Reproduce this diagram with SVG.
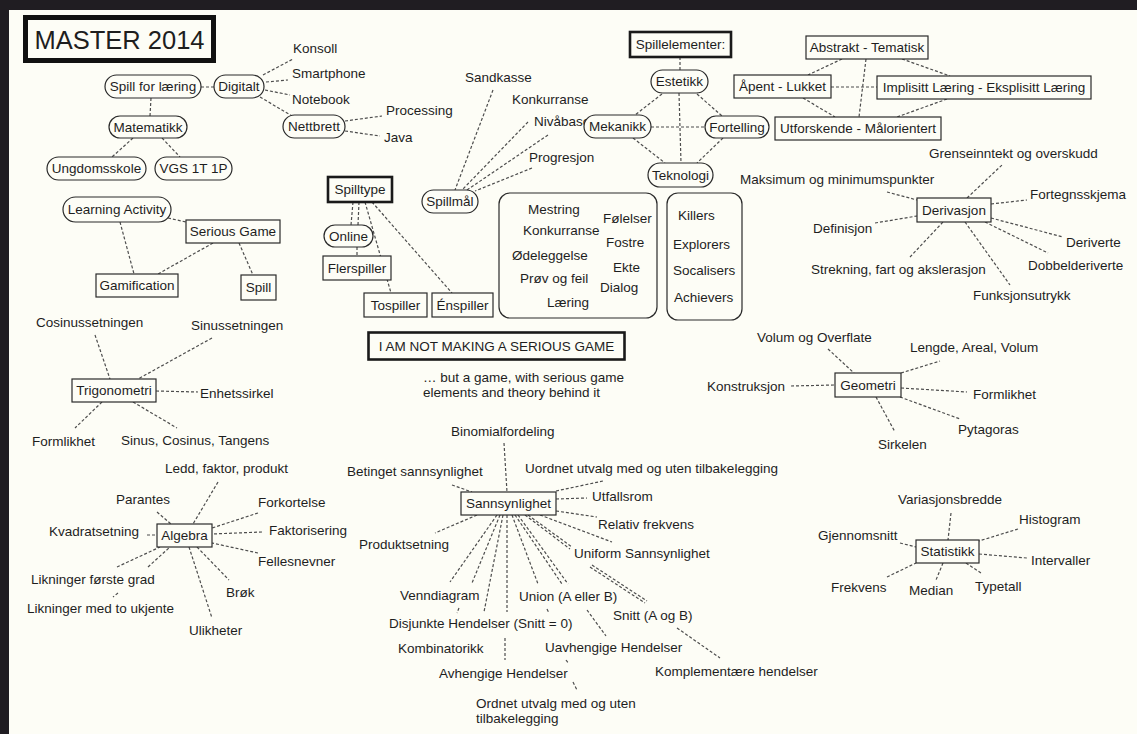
<svg xmlns="http://www.w3.org/2000/svg" width="1137" height="734" viewBox="0 0 1137 734">
<style>
text{font-family:"Liberation Sans",Arial,Helvetica,sans-serif;font-size:13.5px;fill:#1e1e1e}
.m{text-anchor:middle}
.c line{stroke:#4d4d4d;stroke-width:1.2;stroke-dasharray:3 2;fill:none}
.p{fill:#fdfdf6;stroke:#2a2a2a;stroke-width:1.2}
.k{fill:#fdfdf6;stroke:#1a1a1a;stroke-width:2.6}
</style>
<rect x="0" y="0" width="1137" height="734" fill="#201d22"/>
<rect x="9" y="10" width="1128" height="724" fill="#fdfdf6"/>

<g id="connectors" class="c">
<line x1="201" y1="87" x2="214" y2="87"/>
<line x1="151" y1="98" x2="150" y2="116"/>
<line x1="133" y1="138" x2="112" y2="157"/>
<line x1="162" y1="138" x2="180" y2="157"/>
<line x1="263" y1="75" x2="293" y2="59"/>
<line x1="266" y1="82" x2="288" y2="80"/>
<line x1="265" y1="90" x2="290" y2="95"/>
<line x1="260" y1="97" x2="292" y2="116"/>
<line x1="345" y1="121" x2="382" y2="116"/>
<line x1="345" y1="131" x2="380" y2="136"/>
<line x1="680" y1="57" x2="680" y2="70"/>
<line x1="662" y1="94" x2="635" y2="115"/>
<line x1="697" y1="94" x2="722" y2="116"/>
<line x1="679" y1="93" x2="681" y2="163"/>
<line x1="651" y1="127" x2="705" y2="127"/>
<line x1="633" y1="138" x2="665" y2="163"/>
<line x1="723" y1="138" x2="697" y2="163"/>
<line x1="842" y1="59" x2="808" y2="75"/>
<line x1="866" y1="59" x2="859" y2="117"/>
<line x1="902" y1="59" x2="950" y2="76"/>
<line x1="831" y1="87" x2="877" y2="87"/>
<line x1="803" y1="98" x2="835" y2="117"/>
<line x1="947" y1="99" x2="897" y2="117"/>
<line x1="493" y1="90" x2="455" y2="190"/>
<line x1="528" y1="122" x2="462" y2="190"/>
<line x1="548" y1="135" x2="467" y2="190"/>
<line x1="532" y1="168" x2="475" y2="191"/>
<line x1="353" y1="202" x2="351" y2="225"/>
<line x1="359" y1="202" x2="358" y2="225"/>
<line x1="357" y1="247" x2="357" y2="256"/>
<line x1="365" y1="202" x2="391" y2="293"/>
<line x1="372" y1="202" x2="452" y2="293"/>
<line x1="168" y1="218" x2="186" y2="222"/>
<line x1="120" y1="222" x2="134" y2="274"/>
<line x1="213" y1="243" x2="158" y2="274"/>
<line x1="239" y1="243" x2="253" y2="275"/>
<line x1="95" y1="335" x2="110" y2="379"/>
<line x1="212" y1="338" x2="138" y2="379"/>
<line x1="156" y1="391" x2="198" y2="392"/>
<line x1="102" y1="402" x2="75" y2="428"/>
<line x1="133" y1="402" x2="177" y2="428"/>
<line x1="218" y1="482" x2="193" y2="524"/>
<line x1="157" y1="512" x2="171" y2="524"/>
<line x1="258" y1="513" x2="212" y2="528"/>
<line x1="147" y1="535" x2="157" y2="535"/>
<line x1="262" y1="532" x2="212" y2="534"/>
<line x1="258" y1="553" x2="212" y2="543"/>
<line x1="117" y1="567" x2="160" y2="547"/>
<line x1="148" y1="567" x2="170" y2="547"/>
<line x1="118" y1="593" x2="113" y2="597"/>
<line x1="197" y1="547" x2="229" y2="580"/>
<line x1="189" y1="547" x2="212" y2="618"/>
<line x1="504" y1="443" x2="507" y2="492"/>
<line x1="452" y1="485" x2="472" y2="492"/>
<line x1="556" y1="491" x2="603" y2="481"/>
<line x1="556" y1="499" x2="587" y2="498"/>
<line x1="556" y1="511" x2="597" y2="517"/>
<line x1="477" y1="515" x2="435" y2="533"/>
<line x1="497" y1="515" x2="450" y2="582"/>
<line x1="500" y1="515" x2="472" y2="583"/>
<line x1="459" y1="608" x2="457" y2="613"/>
<line x1="503" y1="515" x2="484" y2="612"/>
<line x1="507" y1="515" x2="507" y2="612"/>
<line x1="505" y1="638" x2="505" y2="660"/>
<line x1="512" y1="515" x2="538" y2="584"/>
<line x1="547" y1="609" x2="549" y2="613"/>
<line x1="566" y1="660" x2="569" y2="664"/>
<line x1="573" y1="682" x2="577" y2="690"/>
<line x1="515" y1="515" x2="562" y2="584"/>
<line x1="518" y1="515" x2="568" y2="584"/>
<line x1="587" y1="610" x2="606" y2="636"/>
<line x1="525" y1="515" x2="570" y2="549"/>
<line x1="528" y1="515" x2="572" y2="547"/>
<line x1="590" y1="567" x2="645" y2="603"/>
<line x1="592" y1="565" x2="647" y2="601"/>
<line x1="677" y1="628" x2="720" y2="658"/>
<line x1="540" y1="515" x2="612" y2="542"/>
<line x1="967" y1="198" x2="1002" y2="165"/>
<line x1="887" y1="192" x2="917" y2="200"/>
<line x1="991" y1="204" x2="1027" y2="200"/>
<line x1="991" y1="218" x2="1063" y2="237"/>
<line x1="985" y1="222" x2="1048" y2="253"/>
<line x1="965" y1="222" x2="1010" y2="285"/>
<line x1="875" y1="223" x2="917" y2="216"/>
<line x1="910" y1="257" x2="943" y2="222"/>
<line x1="828" y1="349" x2="854" y2="373"/>
<line x1="791" y1="386" x2="835" y2="385"/>
<line x1="901" y1="373" x2="940" y2="361"/>
<line x1="901" y1="388" x2="967" y2="392"/>
<line x1="900" y1="397" x2="960" y2="419"/>
<line x1="876" y1="397" x2="895" y2="432"/>
<line x1="951" y1="513" x2="948" y2="540"/>
<line x1="1018" y1="529" x2="979" y2="541"/>
<line x1="900" y1="543" x2="916" y2="547"/>
<line x1="979" y1="554" x2="1027" y2="558"/>
<line x1="887" y1="577" x2="916" y2="563"/>
<line x1="943" y1="563" x2="936" y2="580"/>
<line x1="966" y1="563" x2="981" y2="573"/>
</g>

<g id="master"><rect x="25.5" y="17.5" width="188" height="43" fill="#fdfdf6" stroke="#111" stroke-width="5"/><text class="m" x="119.5" y="49" style="font-size:25.5px">MASTER 2014</text></g>

<g id="spill-for-laering"><rect class="p" x="105" y="75" width="96" height="23" rx="11.5"/><text class="m" x="153" y="91">Spill for læring</text></g>
<g id="digitalt"><rect class="p" x="214" y="75" width="50" height="23" rx="11.5"/><text class="m" x="239" y="91">Digitalt</text></g>
<g id="matematikk"><rect class="p" x="109" y="116" width="78" height="22" rx="11"/><text class="m" x="148" y="132">Matematikk</text></g>
<g id="ungdomsskole"><rect class="p" x="47" y="157" width="99" height="23" rx="11.5"/><text class="m" x="96.5" y="173">Ungdomsskole</text></g>
<g id="vgs"><rect class="p" x="155" y="157" width="77" height="23" rx="11.5"/><text class="m" x="193.5" y="173">VGS 1T 1P</text></g>
<g id="konsoll"><text x="293" y="53">Konsoll</text></g>
<g id="smartphone"><text x="292" y="78">Smartphone</text></g>
<g id="notebook"><text x="292" y="104">Notebook</text></g>
<g id="nettbrett"><rect class="p" x="283" y="115" width="62" height="23" rx="11.5"/><text class="m" x="314" y="131">Nettbrett</text></g>
<g id="processing"><text x="386" y="115">Processing</text></g>
<g id="java"><text x="384" y="142">Java</text></g>

<g id="sandkasse"><text x="465" y="82">Sandkasse</text></g>
<g id="konkurranse1"><text x="512" y="104">Konkurranse</text></g>
<g id="nivabasert"><text x="534" y="126">Nivåbasert</text></g>
<g id="progresjon"><text x="529" y="162">Progresjon</text></g>
<g id="spillmal"><rect class="p" x="422" y="190" width="56" height="23" rx="11.5"/><text class="m" x="450" y="206">Spillmål</text></g>

<g id="spillelementer"><rect class="k" x="630" y="32" width="101" height="25"/><text class="m" x="680.5" y="49">Spillelementer:</text></g>
<g id="estetikk"><rect class="p" x="651" y="70" width="57" height="23" rx="11.5"/><text class="m" x="679.5" y="86">Estetikk</text></g>
<g id="mekanikk"><rect class="p" x="584" y="115" width="67" height="23" rx="11.5"/><text class="m" x="617.5" y="131">Mekanikk</text></g>
<g id="fortelling"><rect class="p" x="705" y="116" width="64" height="22" rx="11"/><text class="m" x="737" y="132">Fortelling</text></g>
<g id="teknologi"><rect class="p" x="648" y="163" width="65" height="24" rx="12"/><text class="m" x="680.5" y="180">Teknologi</text></g>

<g id="abstrakt"><rect class="p" x="806" y="36" width="122" height="23"/><text class="m" x="867" y="52">Abstrakt - Tematisk</text></g>
<g id="apent"><rect class="p" x="734" y="75" width="97" height="23"/><text class="m" x="782.5" y="91">Åpent - Lukket</text></g>
<g id="implisitt"><rect class="p" x="877" y="76" width="214" height="23"/><text class="m" x="984" y="92">Implisitt Læring - Eksplisitt Læring</text></g>
<g id="utforskende"><rect class="p" x="775" y="117" width="166" height="23"/><text class="m" x="858" y="133">Utforskende - Målorientert</text></g>

<g id="spilltype"><rect class="k" x="328" y="177" width="64" height="25"/><text class="m" x="360" y="194">Spilltype</text></g>
<g id="online"><rect class="p" x="324" y="225" width="49" height="22" rx="11"/><text class="m" x="348.5" y="241">Online</text></g>
<g id="flerspiller"><rect class="p" x="323" y="256" width="68" height="24"/><text class="m" x="357" y="273">Flerspiller</text></g>
<g id="tospiller"><rect class="p" x="364" y="293" width="63" height="24"/><text class="m" x="395.5" y="310">Tospiller</text></g>
<g id="enspiller"><rect class="p" x="432" y="293" width="61" height="24"/><text class="m" x="462.5" y="310">Énspiller</text></g>

<g id="motivasjon"><rect class="p" x="499" y="193" width="158" height="125" rx="11"/>
<text x="528" y="214">Mestring</text><text x="523" y="235">Konkurranse</text><text x="512" y="260">Ødeleggelse</text><text x="520" y="283">Prøv og feil</text><text x="547" y="307">Læring</text>
<text x="603" y="223">Følelser</text><text x="606" y="247">Fostre</text><text x="613" y="272">Ekte</text><text x="600" y="292">Dialog</text></g>
<g id="spillertyper"><rect class="p" x="667" y="193" width="75" height="127" rx="11"/>
<text x="678" y="220">Killers</text><text x="673" y="249">Explorers</text><text x="673" y="275">Socalisers</text><text x="674" y="302">Achievers</text></g>

<g id="not-making"><rect class="k" x="368.5" y="332.5" width="256" height="27"/><text class="m" x="496.5" y="351">I AM NOT MAKING A SERIOUS GAME</text></g>
<g id="but-a-game"><text x="423" y="382">… but a game, with serious game</text><text x="423" y="397">elements and theory behind it</text></g>

<g id="learning-activity"><rect class="p" x="63" y="197" width="108" height="25" rx="12.5"/><text class="m" x="117" y="214">Learning Activity</text></g>
<g id="serious-game"><rect class="p" x="186" y="220" width="94" height="23"/><text class="m" x="233" y="236">Serious Game</text></g>
<g id="gamification"><rect class="p" x="96" y="274" width="82" height="23"/><text class="m" x="137" y="290">Gamification</text></g>
<g id="spill"><rect class="p" x="241" y="275" width="35" height="25"/><text class="m" x="258.5" y="292">Spill</text></g>

<g id="trigonometri"><rect class="p" x="72" y="379" width="84" height="23"/><text class="m" x="114" y="395">Trigonometri</text></g>
<g id="cosinussetningen"><text x="36" y="327">Cosinussetningen</text></g>
<g id="sinussetningen"><text x="191" y="330">Sinussetningen</text></g>
<g id="enhetssirkel"><text x="200" y="398">Enhetssirkel</text></g>
<g id="formlikhet1"><text x="32" y="446">Formlikhet</text></g>
<g id="sinus-cosinus-tangens"><text x="121" y="445">Sinus, Cosinus, Tangens</text></g>

<g id="algebra"><rect class="p" x="157" y="524" width="55" height="23"/><text class="m" x="184.5" y="540">Algebra</text></g>
<g id="ledd"><text x="165" y="473">Ledd, faktor, produkt</text></g>
<g id="parantes"><text x="116" y="504">Parantes</text></g>
<g id="forkortelse"><text x="258" y="507">Forkortelse</text></g>
<g id="kvadratsetning"><text x="49" y="536">Kvadratsetning</text></g>
<g id="faktorisering"><text x="269" y="535">Faktorisering</text></g>
<g id="fellesnevner"><text x="258" y="566">Fellesnevner</text></g>
<g id="likninger-forste"><text x="31" y="584">Likninger første grad</text></g>
<g id="likninger-to"><text x="27" y="613">Likninger med to ukjente</text></g>
<g id="brok"><text x="226" y="597">Brøk</text></g>
<g id="ulikheter"><text x="189" y="635">Ulikheter</text></g>

<g id="sannsynlighet"><rect class="p" x="461" y="492" width="95" height="23"/><text class="m" x="508.5" y="508">Sannsynlighet</text></g>
<g id="binomial"><text x="451" y="436">Binomialfordeling</text></g>
<g id="betinget"><text x="347" y="476">Betinget sannsynlighet</text></g>
<g id="uordnet"><text x="525" y="473">Uordnet utvalg med og uten tilbakelegging</text></g>
<g id="utfallsrom"><text x="592" y="501">Utfallsrom</text></g>
<g id="relativ"><text x="598" y="529">Relativ frekvens</text></g>
<g id="produktsetning"><text x="359" y="549">Produktsetning</text></g>
<g id="uniform"><text x="574" y="558">Uniform Sannsynlighet</text></g>
<g id="venndiagram"><text x="400" y="600">Venndiagram</text></g>
<g id="union"><text x="519" y="601">Union (A eller B)</text></g>
<g id="disjunkte"><text x="389" y="628">Disjunkte Hendelser (Snitt = 0)</text></g>
<g id="snitt"><text x="613" y="620">Snitt (A og B)</text></g>
<g id="kombinatorikk"><text x="398" y="653">Kombinatorikk</text></g>
<g id="uavhengige"><text x="545" y="652">Uavhengige Hendelser</text></g>
<g id="avhengige"><text x="439" y="678">Avhengige Hendelser</text></g>
<g id="komplementaere"><text x="655" y="676">Komplementære hendelser</text></g>
<g id="ordnet"><text x="476" y="708">Ordnet utvalg med og uten</text><text x="476" y="723">tilbakelegging</text></g>

<g id="derivasjon"><rect class="p" x="917" y="198" width="74" height="24"/><text class="m" x="954" y="215">Derivasjon</text></g>
<g id="grenseinntekt"><text x="929" y="158">Grenseinntekt og overskudd</text></g>
<g id="maksimum"><text x="740" y="184">Maksimum og minimumspunkter</text></g>
<g id="fortegnsskjema"><text x="1030" y="199">Fortegnsskjema</text></g>
<g id="definisjon"><text x="813" y="233">Definisjon</text></g>
<g id="deriverte"><text x="1066" y="247">Deriverte</text></g>
<g id="dobbelderiverte"><text x="1028" y="270">Dobbelderiverte</text></g>
<g id="strekning"><text x="811" y="274">Strekning, fart og akslerasjon</text></g>
<g id="funksjonsutrykk"><text x="973" y="300">Funksjonsutrykk</text></g>

<g id="geometri"><rect class="p" x="835" y="373" width="66" height="24"/><text class="m" x="868" y="390">Geometri</text></g>
<g id="volum"><text x="757" y="342">Volum og Overflate</text></g>
<g id="konstruksjon"><text x="707" y="391">Konstruksjon</text></g>
<g id="lengde"><text x="910" y="352">Lengde, Areal, Volum</text></g>
<g id="formlikhet2"><text x="973" y="399">Formlikhet</text></g>
<g id="pytagoras"><text x="958" y="434">Pytagoras</text></g>
<g id="sirkelen"><text x="878" y="449">Sirkelen</text></g>

<g id="statistikk"><rect class="p" x="916" y="540" width="63" height="23"/><text class="m" x="947.5" y="556">Statistikk</text></g>
<g id="variasjonsbredde"><text x="898" y="504">Variasjonsbredde</text></g>
<g id="histogram"><text x="1019" y="524">Histogram</text></g>
<g id="gjennomsnitt"><text x="818" y="540">Gjennomsnitt</text></g>
<g id="intervaller"><text x="1031" y="565">Intervaller</text></g>
<g id="frekvens"><text x="831" y="592">Frekvens</text></g>
<g id="median"><text x="909" y="595">Median</text></g>
<g id="typetall"><text x="975" y="591">Typetall</text></g>
</svg>
